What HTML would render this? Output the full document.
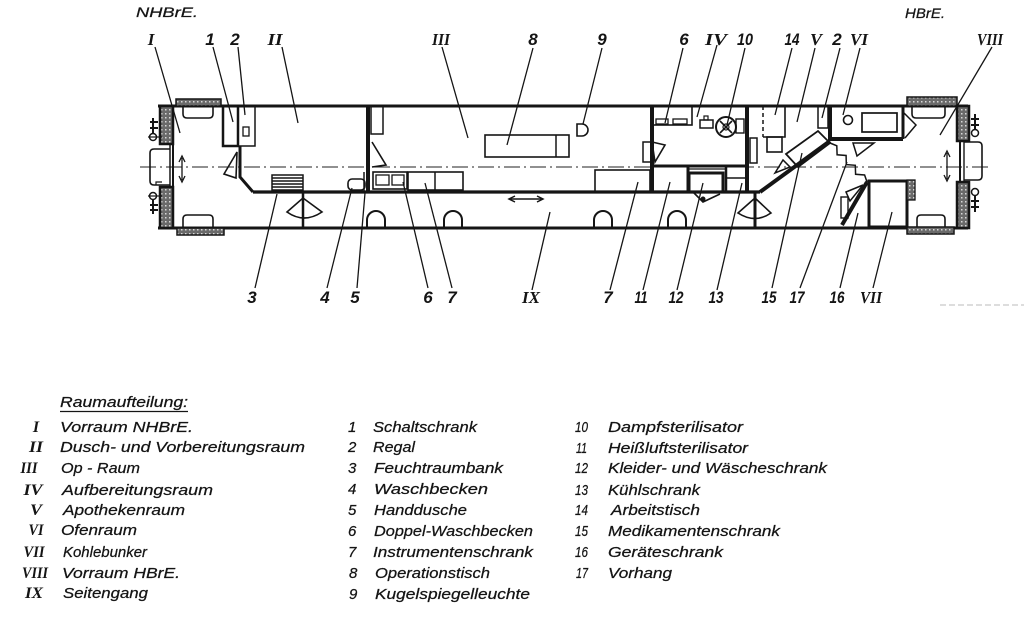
<!DOCTYPE html>
<html><head><meta charset="utf-8"><style>
html,body{margin:0;padding:0;background:#fff;}
body{width:1024px;height:638px;overflow:hidden;}
svg{display:block;}
.t{font-family:"Liberation Sans",sans-serif;font-style:italic;fill:#141414;stroke:#141414;stroke-width:0.25;}
.n{font-family:"Liberation Sans",sans-serif;font-style:italic;font-weight:bold;fill:#141414;}
.r{font-family:"Liberation Serif",serif;font-style:italic;font-weight:bold;fill:#141414;}
</style></head><body>
<svg width="1024" height="638" viewBox="0 0 1024 638" xmlns="http://www.w3.org/2000/svg">
<defs>
<pattern id="h" width="4" height="4" patternUnits="userSpaceOnUse">
<rect width="4" height="4" fill="#6a6a6a"/>
<rect x="1" y="1" width="1.5" height="1.5" fill="#d8d8d8"/>
</pattern>
</defs>

<!-- centerline -->
<line x1="140" y1="167" x2="988" y2="167" stroke="#222" stroke-width="1" stroke-dasharray="16 4 2 4"/>

<g stroke="#151515" fill="none" stroke-linejoin="miter">
<!-- outer walls -->
<line x1="158" y1="106" x2="968" y2="106" stroke-width="3"/>
<line x1="158" y1="228" x2="968" y2="228" stroke-width="3"/>

<!-- LEFT END -->
<rect x="160" y="106" width="13" height="38" fill="url(#h)" stroke-width="2.5"/>
<rect x="160" y="187" width="13" height="41" fill="url(#h)" stroke-width="2.5"/>
<line x1="170" y1="144" x2="170" y2="187" stroke-width="1.5"/>
<line x1="173" y1="144" x2="173" y2="187" stroke-width="2"/>
<path d="M170,149 L154,149 Q150,149 150,153 L150,181 Q150,185 154,185 L170,185" stroke-width="1.6"/>
<path d="M156,185 L156,182 L162,182" stroke-width="1.2"/>
<circle cx="153" cy="137" r="3.5" stroke-width="1.5"/>
<line x1="148" y1="137" x2="162" y2="137" stroke-width="1.2"/>
<path d="M153,118 L153,133 M150,122 L158,122 M150,128 L158,128" stroke-width="2"/>
<circle cx="153" cy="196" r="3.5" stroke-width="1.5"/>
<line x1="148" y1="196" x2="162" y2="196" stroke-width="1.2"/>
<path d="M153,200 L153,214 M150,205 L158,205 M150,210 L158,210" stroke-width="2"/>
<rect x="176" y="99" width="45" height="7" fill="url(#h)" stroke-width="1.5"/>
<path d="M183,106 L183,114 Q183,118 187,118 L209,118 Q213,118 213,114 L213,106" stroke-width="1.6"/>
<rect x="177" y="228" width="47" height="7" fill="url(#h)" stroke-width="1.5"/>
<path d="M183,228 L183,219 Q183,215 187,215 L209,215 Q213,215 213,219 L213,228" stroke-width="1.6"/>
<line x1="182" y1="158" x2="182" y2="180" stroke-width="1.3"/>
<path d="M179,162 L182,156 L185,162 M179,176 L182,182 L185,176" stroke-width="1.3"/>

<!-- cabinets 1,2 -->
<rect x="223" y="106" width="15" height="40" stroke-width="2.5"/>
<rect x="238" y="106" width="17" height="40" stroke-width="1.5"/>
<rect x="243" y="127" width="6" height="9" stroke-width="1.3"/>
<path d="M240,146 L240,177 L253,192" stroke-width="3"/>
<polygon points="237,152 224,174 236,178" stroke-width="1.6"/>

<!-- corridor wall -->
<line x1="253" y1="192" x2="760" y2="192" stroke-width="3.2"/>
<line x1="760" y1="192" x2="830" y2="141" stroke-width="4"/>

<!-- Room II -->
<rect x="272" y="175" width="31" height="17" stroke-width="1.5"/>
<path d="M272,178 H303 M272,181 H303 M272,184 H303 M272,187 H303 M272,190 H303" stroke-width="1.6"/>
<line x1="303" y1="192" x2="303" y2="228" stroke-width="2.5"/>
<path d="M287,212 L303,198 L322,212 Q304,224 287,212 Z" stroke-width="1.6"/>
<rect x="348" y="179" width="17" height="11" rx="4" stroke-width="1.6"/>
<line x1="364" y1="172" x2="364" y2="192" stroke-width="1.5"/>
<line x1="368" y1="106" x2="368" y2="192" stroke-width="4"/>

<!-- Op room -->
<rect x="371" y="106" width="12" height="28" stroke-width="1.5"/>
<polyline points="372,142 386,165 372,167" stroke-width="1.6"/>
<rect x="373" y="172" width="34" height="17" stroke-width="1.6"/>
<rect x="376" y="175" width="13" height="10" stroke-width="1.3"/>
<rect x="392" y="175" width="12" height="10" stroke-width="1.3"/>
<rect x="408" y="172" width="55" height="18" stroke-width="1.6"/>
<line x1="435" y1="172" x2="435" y2="190" stroke-width="1.5"/>
<path d="M367,228 L367,220 A9,9 0 0 1 385,220 L385,228" stroke-width="2"/>
<path d="M444,228 L444,220 A9,9 0 0 1 462,220 L462,228" stroke-width="2"/>
<path d="M594,228 L594,220 A9,9 0 0 1 612,220 L612,228" stroke-width="2"/>
<path d="M668,228 L668,220 A9,9 0 0 1 686,220 L686,228" stroke-width="2"/>
<rect x="485" y="135" width="84" height="22" stroke-width="1.6"/>
<line x1="556" y1="135" x2="556" y2="157" stroke-width="1.5"/>
<path d="M577,124 L582,124 A6,6 0 0 1 582,136 L577,136 Z" stroke-width="1.6"/>
<rect x="595" y="170" width="55" height="22" stroke-width="1.6"/>
<line x1="652" y1="106" x2="652" y2="192" stroke-width="4"/>
<rect x="643" y="142" width="9" height="20" stroke-width="1.5"/>
<polygon points="652,142 665,145 655,162" stroke-width="1.6"/>

<!-- Room IV -->
<rect x="653" y="106" width="39" height="19" stroke-width="1.6"/>
<rect x="656" y="119" width="12" height="5" stroke-width="1.3"/>
<rect x="673" y="119" width="14" height="5" stroke-width="1.3"/>
<rect x="700" y="120" width="13" height="8" stroke-width="1.5"/>
<rect x="704" y="116" width="4" height="4" stroke-width="1.2"/>
<circle cx="726" cy="127" r="10" stroke-width="2"/>
<path d="M720,121 L732,133 M732,121 L720,133" stroke-width="1.6"/>
<circle cx="726" cy="127" r="3" stroke-width="1.2"/>
<rect x="736" y="119" width="8" height="14" stroke-width="1.4"/>
<line x1="747" y1="106" x2="747" y2="192" stroke-width="4"/>
<rect x="750" y="138" width="7" height="25" stroke-width="1.5"/>
<line x1="652" y1="166" x2="747" y2="166" stroke-width="3"/>
<line x1="688" y1="166" x2="688" y2="192" stroke-width="3"/>
<rect x="689" y="173" width="34" height="19" stroke-width="3"/>
<line x1="688" y1="169" x2="725" y2="169" stroke-width="1.2"/>
<line x1="726" y1="166" x2="726" y2="192" stroke-width="2.5"/>
<line x1="726" y1="178" x2="747" y2="178" stroke-width="1.5"/>
<polyline points="693,192 703,202 720,194" stroke-width="1.6"/>
<circle cx="703" cy="199" r="2" fill="#151515" stroke-width="1"/>
<line x1="755" y1="192" x2="755" y2="228" stroke-width="3"/>
<path d="M738,213 L755,198 L771,213 Q755,224 738,213 Z" stroke-width="1.6"/>

<!-- Room V -->
<line x1="763" y1="106" x2="763" y2="137" stroke-width="1.5" stroke-dasharray="4 3"/>
<path d="M763,137 L785,137 L785,106" stroke-width="1.6"/>
<rect x="767" y="137" width="15" height="15" stroke-width="1.6"/>
<rect x="818" y="106" width="10" height="22" stroke-width="1.5"/>
<line x1="830" y1="106" x2="830" y2="141" stroke-width="4"/>
<polygon points="786,154 818,131 830,143 798,167" stroke-width="1.8"/>
<polygon points="775,173 783,160 790,167" stroke-width="1.5"/>

<!-- Room VI -->
<line x1="830" y1="139" x2="903" y2="139" stroke-width="4"/>
<line x1="903" y1="106" x2="903" y2="139" stroke-width="3"/>
<circle cx="848" cy="120" r="4.5" stroke-width="1.6"/>
<rect x="862" y="113" width="35" height="19" stroke-width="1.7"/>
<polyline points="903,112 916,125 905,138" stroke-width="1.5"/>
<polygon points="853,143 874,143 857,156" stroke-width="1.5"/>

<!-- curtain 17 & walls -->
<polyline points="830,143 836.8,145.8 837.1,154.8 846.1,155.5 846.3,164.6 855.3,165.3 855.6,174.3 864.6,175 867,182" stroke-width="1.5"/>
<line x1="867" y1="182" x2="842" y2="225" stroke-width="4"/>
<polygon points="846,192 863,185 850,201" stroke-width="1.5"/>
<rect x="841" y="197" width="7" height="21" stroke-width="1.4"/>

<!-- Room VII -->
<rect x="869" y="181" width="38" height="46" stroke-width="3"/>
<rect x="907" y="180" width="8" height="20" fill="url(#h)" stroke-width="1.3"/>

<!-- RIGHT END -->
<rect x="907" y="97" width="50" height="9" fill="url(#h)" stroke-width="1.5"/>
<path d="M912,106 L912,114 Q912,118 916,118 L941,118 Q945,118 945,114 L945,106" stroke-width="1.6"/>
<rect x="907" y="227" width="47" height="7" fill="url(#h)" stroke-width="1.5"/>
<path d="M917,227 L917,219 Q917,215 921,215 L941,215 Q945,215 945,219 L945,227" stroke-width="1.6"/>
<rect x="957" y="106" width="12" height="35" fill="url(#h)" stroke-width="2.5"/>
<rect x="957" y="182" width="12" height="46" fill="url(#h)" stroke-width="2.5"/>
<line x1="960" y1="141" x2="960" y2="182" stroke-width="2"/>
<line x1="964" y1="141" x2="964" y2="182" stroke-width="1.4"/>
<path d="M964,142 L978,142 Q982,142 982,146 L982,176 Q982,180 978,180 L964,180" stroke-width="1.6"/>
<circle cx="975" cy="133" r="3.5" stroke-width="1.5"/>
<path d="M975,114 L975,129 M971,119 L979,119 M971,125 L979,125" stroke-width="2"/>
<circle cx="975" cy="192" r="3.5" stroke-width="1.5"/>
<path d="M975,196 L975,212 M971,201 L979,201 M971,207 L979,207" stroke-width="2"/>
<line x1="947" y1="153" x2="947" y2="179" stroke-width="1.3"/>
<path d="M944,157 L947,151 L950,157 M944,175 L947,181 L950,175" stroke-width="1.3"/>

<!-- corridor arrow -->
<line x1="510" y1="199" x2="542" y2="199" stroke-width="1.5"/>
<path d="M515,196 L509,199 L515,202 M537,196 L543,199 L537,202" stroke-width="1.5"/>
</g>

<!-- leader lines -->
<g stroke="#151515" stroke-width="1.3">
<line x1="155" y1="47" x2="180" y2="133"/>
<line x1="213" y1="47" x2="233" y2="122"/>
<line x1="238" y1="47" x2="245" y2="115"/>
<line x1="282" y1="47" x2="298" y2="123"/>
<line x1="442" y1="47" x2="468" y2="138"/>
<line x1="533" y1="48" x2="507" y2="145"/>
<line x1="602" y1="48" x2="583" y2="124"/>
<line x1="683" y1="48" x2="665" y2="123"/>
<line x1="717" y1="45" x2="697" y2="117"/>
<line x1="745" y1="48" x2="727" y2="125"/>
<line x1="792" y1="48" x2="775" y2="115"/>
<line x1="815" y1="48" x2="797" y2="122"/>
<line x1="840" y1="48" x2="822" y2="118"/>
<line x1="860" y1="48" x2="843" y2="115"/>
<line x1="992" y1="47" x2="940" y2="135"/>
<line x1="255" y1="288" x2="277" y2="194"/>
<line x1="327" y1="288" x2="352" y2="188"/>
<line x1="357" y1="288" x2="365" y2="193"/>
<line x1="428" y1="288" x2="403" y2="182"/>
<line x1="452" y1="288" x2="425" y2="183"/>
<line x1="532" y1="290" x2="550" y2="212"/>
<line x1="610" y1="290" x2="638" y2="182"/>
<line x1="643" y1="290" x2="670" y2="182"/>
<line x1="677" y1="290" x2="703" y2="183"/>
<line x1="717" y1="290" x2="742" y2="183"/>
<line x1="772" y1="288" x2="802" y2="153"/>
<line x1="800" y1="288" x2="847" y2="162"/>
<line x1="840" y1="288" x2="858" y2="213"/>
<line x1="873" y1="288" x2="892" y2="212"/>
</g>

<!-- faint lines -->
<line x1="940" y1="305" x2="1024" y2="305" stroke="#bbb" stroke-width="1" stroke-dasharray="6 3"/>

<!-- top labels -->
<text class="t" x="136" y="17" font-size="14" textLength="62" lengthAdjust="spacingAndGlyphs">NHBrE.</text>
<text class="t" x="905" y="18" font-size="14" textLength="40" lengthAdjust="spacingAndGlyphs">HBrE.</text>
<g font-size="17" text-anchor="middle">
<text class="r" x="151" y="45">I</text>
<text class="n" x="210" y="45">1</text>
<text class="n" x="235" y="45">2</text>
<text class="r" x="275" y="45" textLength="15" lengthAdjust="spacingAndGlyphs">II</text>
<text class="r" x="441" y="45" textLength="18" lengthAdjust="spacingAndGlyphs">III</text>
<text class="n" x="533" y="45">8</text>
<text class="n" x="602" y="45">9</text>
<text class="n" x="684" y="45">6</text>
<text class="r" x="716" y="45" textLength="22" lengthAdjust="spacingAndGlyphs">IV</text>
<text class="n" x="745" y="45" textLength="16" lengthAdjust="spacingAndGlyphs">10</text>
<text class="n" x="792" y="45" textLength="15" lengthAdjust="spacingAndGlyphs">14</text>
<text class="r" x="816" y="45" textLength="12" lengthAdjust="spacingAndGlyphs">V</text>
<text class="n" x="837" y="45">2</text>
<text class="r" x="859" y="45" textLength="18" lengthAdjust="spacingAndGlyphs">VI</text>
<text class="r" x="990" y="45" textLength="26" lengthAdjust="spacingAndGlyphs">VIII</text>
</g>
<!-- bottom labels -->
<g font-size="17" text-anchor="middle">
<text class="n" x="252" y="303">3</text>
<text class="n" x="325" y="303">4</text>
<text class="n" x="355" y="303">5</text>
<text class="n" x="428" y="303">6</text>
<text class="n" x="452" y="303">7</text>
<text class="r" x="531" y="303" textLength="18" lengthAdjust="spacingAndGlyphs">IX</text>
<text class="n" x="608" y="303">7</text>
<text class="n" x="641" y="303" textLength="13" lengthAdjust="spacingAndGlyphs">11</text>
<text class="n" x="676" y="303" textLength="15" lengthAdjust="spacingAndGlyphs">12</text>
<text class="n" x="716" y="303" textLength="15" lengthAdjust="spacingAndGlyphs">13</text>
<text class="n" x="769" y="303" textLength="15" lengthAdjust="spacingAndGlyphs">15</text>
<text class="n" x="797" y="303" textLength="15" lengthAdjust="spacingAndGlyphs">17</text>
<text class="n" x="837" y="303" textLength="15" lengthAdjust="spacingAndGlyphs">16</text>
<text class="r" x="871" y="303" textLength="22" lengthAdjust="spacingAndGlyphs">VII</text>
</g>

<!-- legend column 1 -->
<g font-size="15">
<text class="t" x="60" y="407" textLength="128" lengthAdjust="spacingAndGlyphs">Raumaufteilung:</text>
<line x1="60" y1="411.5" x2="188" y2="411.5" stroke="#151515" stroke-width="1.2"/>
<text class="t" x="60" y="432" textLength="133" lengthAdjust="spacingAndGlyphs">Vorraum NHBrE.</text>
<text class="t" x="60" y="452" textLength="245" lengthAdjust="spacingAndGlyphs">Dusch- und Vorbereitungsraum</text>
<text class="t" x="61" y="473" textLength="79" lengthAdjust="spacingAndGlyphs">Op - Raum</text>
<text class="t" x="62" y="495" textLength="151" lengthAdjust="spacingAndGlyphs">Aufbereitungsraum</text>
<text class="t" x="63" y="515" textLength="122" lengthAdjust="spacingAndGlyphs">Apothekenraum</text>
<text class="t" x="61" y="535" textLength="76" lengthAdjust="spacingAndGlyphs">Ofenraum</text>
<text class="t" x="63" y="557" textLength="84" lengthAdjust="spacingAndGlyphs">Kohlebunker</text>
<text class="t" x="62" y="578" textLength="118" lengthAdjust="spacingAndGlyphs">Vorraum HBrE.</text>
<text class="t" x="63" y="598" textLength="85" lengthAdjust="spacingAndGlyphs">Seitengang</text>
</g>
<g font-size="16" text-anchor="middle">
<text class="r" x="36" y="432">I</text>
<text class="r" x="36" y="452" textLength="14" lengthAdjust="spacingAndGlyphs">II</text>
<text class="r" x="29" y="473" textLength="17" lengthAdjust="spacingAndGlyphs">III</text>
<text class="r" x="33" y="495" textLength="19" lengthAdjust="spacingAndGlyphs">IV</text>
<text class="r" x="36" y="515" textLength="12" lengthAdjust="spacingAndGlyphs">V</text>
<text class="r" x="36" y="535" textLength="15" lengthAdjust="spacingAndGlyphs">VI</text>
<text class="r" x="34" y="557" textLength="21" lengthAdjust="spacingAndGlyphs">VII</text>
<text class="r" x="35" y="578" textLength="26" lengthAdjust="spacingAndGlyphs">VIII</text>
<text class="r" x="34" y="598" textLength="18" lengthAdjust="spacingAndGlyphs">IX</text>
</g>

<!-- legend column 2 -->
<g font-size="15">
<text class="t" x="348" y="432">1</text>
<text class="t" x="348" y="452">2</text>
<text class="t" x="348" y="473">3</text>
<text class="t" x="348" y="494">4</text>
<text class="t" x="348" y="515">5</text>
<text class="t" x="348" y="536">6</text>
<text class="t" x="348" y="557">7</text>
<text class="t" x="349" y="578">8</text>
<text class="t" x="349" y="599">9</text>
<text class="t" x="373" y="432" textLength="104" lengthAdjust="spacingAndGlyphs">Schaltschrank</text>
<text class="t" x="373" y="452" textLength="42" lengthAdjust="spacingAndGlyphs">Regal</text>
<text class="t" x="374" y="473" textLength="129" lengthAdjust="spacingAndGlyphs">Feuchtraumbank</text>
<text class="t" x="374" y="494" textLength="114" lengthAdjust="spacingAndGlyphs">Waschbecken</text>
<text class="t" x="374" y="515" textLength="93" lengthAdjust="spacingAndGlyphs">Handdusche</text>
<text class="t" x="374" y="536" textLength="159" lengthAdjust="spacingAndGlyphs">Doppel-Waschbecken</text>
<text class="t" x="373" y="557" textLength="160" lengthAdjust="spacingAndGlyphs">Instrumentenschrank</text>
<text class="t" x="375" y="578" textLength="115" lengthAdjust="spacingAndGlyphs">Operationstisch</text>
<text class="t" x="375" y="599" textLength="155" lengthAdjust="spacingAndGlyphs">Kugelspiegelleuchte</text>
</g>

<!-- legend column 3 -->
<g font-size="15">
<text class="t" x="575" y="432" textLength="13" lengthAdjust="spacingAndGlyphs">10</text>
<text class="t" x="576" y="453" textLength="11" lengthAdjust="spacingAndGlyphs">11</text>
<text class="t" x="575" y="473" textLength="13" lengthAdjust="spacingAndGlyphs">12</text>
<text class="t" x="575" y="495" textLength="13" lengthAdjust="spacingAndGlyphs">13</text>
<text class="t" x="575" y="515" textLength="13" lengthAdjust="spacingAndGlyphs">14</text>
<text class="t" x="575" y="536" textLength="13" lengthAdjust="spacingAndGlyphs">15</text>
<text class="t" x="575" y="557" textLength="13" lengthAdjust="spacingAndGlyphs">16</text>
<text class="t" x="576" y="578" textLength="12" lengthAdjust="spacingAndGlyphs">17</text>
<text class="t" x="608" y="432" textLength="135" lengthAdjust="spacingAndGlyphs">Dampfsterilisator</text>
<text class="t" x="608" y="453" textLength="140" lengthAdjust="spacingAndGlyphs">Heißluftsterilisator</text>
<text class="t" x="608" y="473" textLength="219" lengthAdjust="spacingAndGlyphs">Kleider- und Wäscheschrank</text>
<text class="t" x="608" y="495" textLength="92" lengthAdjust="spacingAndGlyphs">Kühlschrank</text>
<text class="t" x="611" y="515" textLength="89" lengthAdjust="spacingAndGlyphs">Arbeitstisch</text>
<text class="t" x="608" y="536" textLength="172" lengthAdjust="spacingAndGlyphs">Medikamentenschrank</text>
<text class="t" x="608" y="557" textLength="115" lengthAdjust="spacingAndGlyphs">Geräteschrank</text>
<text class="t" x="608" y="578" textLength="64" lengthAdjust="spacingAndGlyphs">Vorhang</text>
</g>
</svg>
</body></html>
